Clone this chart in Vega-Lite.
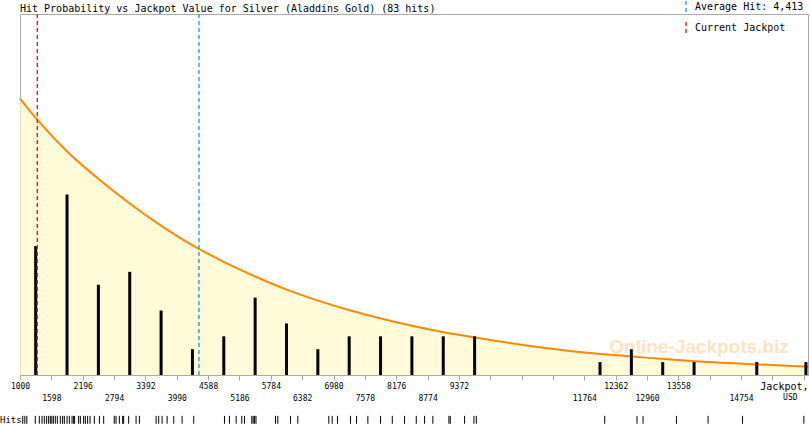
{
  "$schema": "https://vega.github.io/schema/vega-lite/v6.json",
  "width": 788,
  "height": 361,
  "autosize": {"type": "none"},
  "padding": {"left": 20, "top": 14, "right": 2, "bottom": 50},
  "background": "#ffffff",
  "view": {"stroke": "#aaaaaa", "fill": "#ffffff"},
  "config": {
    "axisX": {
      "labelFont": "DejaVu Sans Mono",
      "labelFontSize": 8,
      "labelColor": "#000000",
      "labelFlush": false,
      "labelOverlap": false,
      "labelBound": false,
      "labelPadding": 2,
      "labelLineHeight": 12,
      "domainColor": "#aaaaaa",
      "tickColor": "#aaaaaa",
      "tickSize": 5,
      "grid": false,
      "titleFont": "DejaVu Sans Mono",
      "titleFontSize": 10,
      "titleFontWeight": "normal",
      "titleColor": "#000000"
    }
  },
  "resolve": {"axis": {"x": "independent", "y": "independent"}},
  "datasets": {
    "curve": [
      {"x": 1000, "y": 21.44}, {"x": 1336, "y": 19.77}, {"x": 1909, "y": 17.3},
      {"x": 2500, "y": 15.2}, {"x": 3092, "y": 13.3}, {"x": 3703, "y": 11.55},
      {"x": 4294, "y": 10.05}, {"x": 4886, "y": 8.78}, {"x": 5497, "y": 7.62},
      {"x": 6089, "y": 6.62}, {"x": 6700, "y": 5.75}, {"x": 7291, "y": 5.02},
      {"x": 7883, "y": 4.38}, {"x": 8494, "y": 3.8}, {"x": 9085, "y": 3.32},
      {"x": 9677, "y": 2.91}, {"x": 10912, "y": 2.15}, {"x": 12082, "y": 1.62},
      {"x": 12674, "y": 1.44}, {"x": 13284, "y": 1.24}, {"x": 13876, "y": 1.07},
      {"x": 15079, "y": 0.82}, {"x": 16030, "y": 0.64}
    ],
    "bars": [
      {"x": 1299, "n": 10}, {"x": 1897, "n": 14}, {"x": 2495, "n": 7},
      {"x": 3093, "n": 8}, {"x": 3691, "n": 5}, {"x": 4289, "n": 2},
      {"x": 4887, "n": 3}, {"x": 5485, "n": 6}, {"x": 6083, "n": 4},
      {"x": 6681, "n": 2}, {"x": 7279, "n": 3}, {"x": 7877, "n": 3},
      {"x": 8475, "n": 3}, {"x": 9073, "n": 3}, {"x": 9671, "n": 3},
      {"x": 12063, "n": 1}, {"x": 12661, "n": 2}, {"x": 13259, "n": 1},
      {"x": 13857, "n": 1}, {"x": 15053, "n": 1}, {"x": 15990, "n": 1}
    ],
    "hits": [
      {"x": 1053}, {"x": 1092}, {"x": 1130}, {"x": 1292}, {"x": 1368},
      {"x": 1420}, {"x": 1464}, {"x": 1508}, {"x": 1546}, {"x": 1578},
      {"x": 1607}, {"x": 1636}, {"x": 1674}, {"x": 1712}, {"x": 1769},
      {"x": 1813}, {"x": 1846}, {"x": 1897}, {"x": 1941}, {"x": 1993},
      {"x": 2023}, {"x": 2042}, {"x": 2118}, {"x": 2151},
      {"x": 2214}, {"x": 2246}, {"x": 2290}, {"x": 2336}, {"x": 2418},
      {"x": 2514}, {"x": 2596},
      {"x": 2798}, {"x": 2832}, {"x": 2895}, {"x": 2958}, {"x": 2977},
      {"x": 3073}, {"x": 3214}, {"x": 3277},
      {"x": 3596}, {"x": 3645}, {"x": 3710}, {"x": 3806}, {"x": 3932},
      {"x": 4092}, {"x": 4314},
      {"x": 4900}, {"x": 4995}, {"x": 5123},
      {"x": 5230}, {"x": 5281}, {"x": 5421}, {"x": 5447}, {"x": 5472}, {"x": 5501},
      {"x": 5873}, {"x": 5917}, {"x": 6159}, {"x": 6299},
      {"x": 6890}, {"x": 6955},
      {"x": 7056}, {"x": 7304}, {"x": 7419},
      {"x": 7635}, {"x": 7877}, {"x": 8101},
      {"x": 8335}, {"x": 8558}, {"x": 8717},
      {"x": 8875}, {"x": 9181}, {"x": 9207},
      {"x": 9480}, {"x": 9658}, {"x": 9704},
      {"x": 12153}, {"x": 12769}, {"x": 12884}, {"x": 13521},
      {"x": 14124}, {"x": 14781}, {"x": 15951}
    ],
    "markers": [
      {"x": 4413, "label": "Average Hit: 4,413"},
      {"x": 1330, "label": "Current Jackpot"}
    ]
  },
  "layer": [
    {
      "data": {"name": "curve"},
      "mark": {"type": "area", "fill": "#fff8c8", "interpolate": "monotone", "line": {"color": "#ff8800", "strokeWidth": 2}},
      "encoding": {
        "x": {
          "field": "x",
          "type": "quantitative",
          "scale": {"domain": [1000, 16030], "nice": false, "zero": false},
          "axis": {
            "values": [1000, 1598, 2196, 2794, 3392, 3990, 4588, 5186, 5784, 6382, 6980, 7578, 8176, 8774, 9372, 9970, 10568, 11166, 11764, 12362, 12960, 13558, 14156, 14754, 15352, 15950],
            "format": "d",
            "labelExpr": "indexof([1000,2196,3392,4588,5784,6980,8176,9372,12362,13558], datum.value) >= 0 ? datum.label : (indexof([1598,2794,3990,5186,6382,7578,8774,11764,12960,14754], datum.value) >= 0 ? ['', datum.label] : '')",
            "labelOverlap": false,
            "labelFlush": false,
            "title": "Jackpot,",
            "titleAnchor": "end",
            "titleAlign": "right",
            "titleBaseline": "alphabetic",
            "titleX": 788,
            "titleY": 14
          }
        },
        "y": {"field": "y", "type": "quantitative", "scale": {"domain": [0, 27.88]}, "axis": null}
      }
    },
    {
      "data": {"name": "bars"},
      "mark": {"type": "rule", "color": "#000000", "strokeWidth": 3, "strokeCap": "butt"},
      "encoding": {
        "x": {"field": "x", "type": "quantitative", "axis": null},
        "y": {"field": "n", "type": "quantitative", "axis": null},
        "y2": {"datum": 0}
      }
    },
    {
      "data": {"name": "markers"},
      "mark": {"type": "rule", "strokeWidth": 1.4, "strokeDash": [4, 3]},
      "encoding": {
        "x": {"field": "x", "type": "quantitative", "axis": null},
        "color": {
          "field": "label",
          "type": "nominal",
          "scale": {"domain": ["Average Hit: 4,413", "Current Jackpot"], "range": ["#2b9ad6", "#f01a1a"]},
          "legend": {
            "title": null,
            "orient": "none",
            "legendX": 659,
            "legendY": -14,
            "symbolType": "M0,-1L0,1",
            "symbolSize": 144,
            "symbolStrokeWidth": 1.4,
            "symbolDash": [4, 3],
            "symbolFillColor": "transparent",
            "labelFont": "DejaVu Sans Mono",
            "labelFontSize": 10,
            "labelColor": "#000000",
            "labelOffset": 2,
            "rowPadding": 3
          }
        }
      }
    },
    {
      "data": {"name": "hits"},
      "mark": {"type": "rule", "color": "#000000", "strokeWidth": 1},
      "encoding": {
        "x": {"field": "x", "type": "quantitative", "axis": null},
        "y": {"datum": -3.17, "type": "quantitative", "axis": null},
        "y2": {"datum": -3.78}
      }
    },
    {
      "data": {"values": [{"t": "Hit Probability vs Jackpot Value for Silver (Aladdins Gold) (83 hits)"}]},
      "mark": {"type": "text", "font": "DejaVu Sans Mono", "fontSize": 10, "align": "left", "baseline": "alphabetic", "color": "#000000"},
      "encoding": {
        "x": {"datum": 1000, "type": "quantitative", "axis": null},
        "y": {"datum": 28.19, "type": "quantitative", "axis": null},
        "text": {"field": "t", "type": "nominal"}
      }
    },
    {
      "data": {"values": [{"t": "Hits"}]},
      "mark": {"type": "text", "font": "DejaVu Sans Mono", "fontSize": 9, "align": "left", "baseline": "alphabetic", "dx": -20, "color": "#000000"},
      "encoding": {
        "x": {"datum": 1000, "type": "quantitative", "axis": null},
        "y": {"datum": -3.75, "type": "quantitative", "axis": null},
        "text": {"field": "t", "type": "nominal"}
      }
    },
    {
      "data": {"values": [{"t": "USD"}]},
      "mark": {"type": "text", "font": "DejaVu Sans Mono", "fontSize": 8, "align": "center", "baseline": "alphabetic", "color": "#000000"},
      "encoding": {
        "x": {"datum": 15693, "type": "quantitative", "axis": null},
        "y": {"datum": -1.93, "type": "quantitative", "axis": null},
        "text": {"field": "t", "type": "nominal"}
      }
    },
    {
      "data": {"values": [{"t": "Online-Jackpots.biz"}]},
      "mark": {"type": "text", "font": "Liberation Sans", "fontSize": 19, "fontWeight": "bold", "align": "center", "baseline": "alphabetic", "color": "#ff8c00", "opacity": 0.25},
      "encoding": {
        "x": {"datum": 13951, "type": "quantitative", "axis": null},
        "y": {"datum": 1.7, "type": "quantitative", "axis": null},
        "text": {"field": "t", "type": "nominal"}
      }
    }
  ]
}
